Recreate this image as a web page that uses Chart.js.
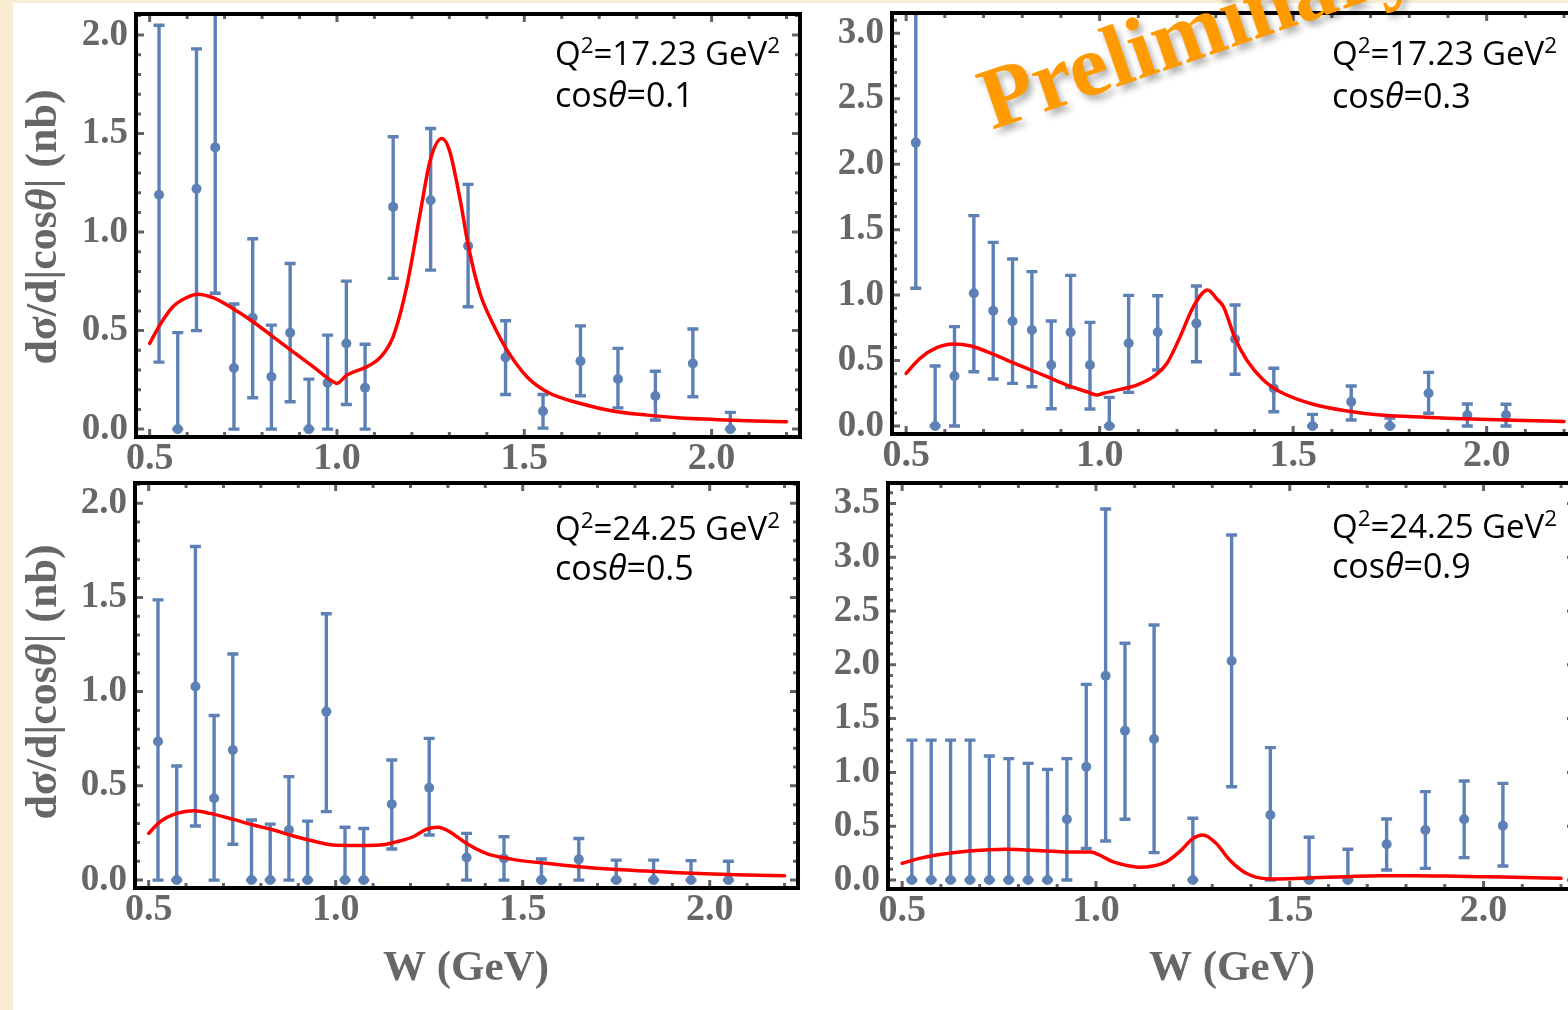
<!DOCTYPE html>
<html>
<head>
<meta charset="utf-8">
<script src="https://cdn.jsdelivr.net/npm/chart.js@4.4.1/dist/chart.umd.min.js"></script>
<style>
  html, body { margin: 0; padding: 0; overflow: hidden; }
  body { width: 1568px; height: 1010px; position: relative; background: #f8ecd2; }
  #sheet { position: absolute; left: 13px; top: 3px; width: 1600px; height: 1010px; background: #fff; }
  canvas { position: absolute; }
</style>
</head>
<body>
<div id="sheet"></div>
<canvas id="c1" width="820" height="480" style="left:0px;top:0px"></canvas>
<canvas id="c2" width="780" height="480" style="left:820px;top:0px"></canvas>
<canvas id="c3" width="820" height="540" style="left:0px;top:470px"></canvas>
<canvas id="c4" width="780" height="540" style="left:820px;top:470px"></canvas>
<script>
// W bin centres (GeV), shared by all four panels
const wBins = [0.525, 0.575, 0.625, 0.675, 0.725, 0.775, 0.825, 0.875, 0.925, 0.975, 1.025,
               1.075, 1.15, 1.25, 1.35, 1.45, 1.55, 1.65, 1.75, 1.85, 1.95, 2.05];

// Q2 = 17.23, cos = 0.1
const p1Val = [1.19, 0, 1.22, 1.43, 0.31, 0.565, 0.266, 0.489, 0, 0.235, 0.435, 0.21, 1.128, 1.162, 0.929, 0.364, 0.091, 0.345, 0.254, 0.168, 0.333, 0];
const p1Lo  = [0.34, 0, 0.50, 0.69, 0, 0.159, 0, 0.139, 0, 0, 0.125, 0, 0.765, 0.807, 0.621, 0.176, 0.005, 0.169, 0.108, 0.046, 0.164, 0];
const p1Hi  = [2.05, 0.49, 1.93, 2.17, 0.635, 0.966, 0.528, 0.841, 0.254, 0.477, 0.751, 0.431, 1.484, 1.526, 1.242, 0.55, 0.176, 0.524, 0.41, 0.294, 0.508, 0.085];
const fit1W = [0.5, 0.527, 0.562, 0.598, 0.628, 0.669, 0.722, 0.776, 0.829, 0.883, 0.937, 0.99, 1.0, 1.026, 1.079, 1.116, 1.15, 1.186, 1.222, 1.249, 1.28, 1.30, 1.329, 1.351, 1.382, 1.418, 1.454, 1.507, 1.56, 1.65, 1.739, 1.828, 1.917, 2.006, 2.095, 2.2];
const fit1Y = [0.435, 0.528, 0.621, 0.667, 0.685, 0.667, 0.612, 0.545, 0.469, 0.392, 0.316, 0.24, 0.232, 0.274, 0.316, 0.365, 0.47, 0.722, 1.095, 1.365, 1.475, 1.416, 1.162, 0.926, 0.688, 0.528, 0.401, 0.266, 0.19, 0.13, 0.091, 0.071, 0.057, 0.049, 0.042, 0.037];

// Q2 = 17.23, cos = 0.3
const p2Val = [2.165, 0, 0.382, 1.014, 0.881, 0.80, 0.733, 0.466, 0.716, 0.466, 0, 0.632, 0.716, 0.784, 0.665, 0.288, 0, 0.186, 0, 0.25, 0.084, 0.084];
const p2Lo  = [1.052, 0, 0, 0.415, 0.359, 0.326, 0.30, 0.132, 0.293, 0.13, 0, 0.257, 0.428, 0.491, 0.395, 0.109, 0, 0.046, 0, 0.097, 0, 0];
const p2Hi  = [3.28, 0.458, 0.759, 1.607, 1.403, 1.276, 1.179, 0.802, 1.151, 0.792, 0.219, 0.998, 0.995, 1.07, 0.924, 0.441, 0.089, 0.306, 0.06, 0.41, 0.168, 0.166];
const fit2W = [0.5, 0.536, 0.579, 0.622, 0.665, 0.709, 0.76, 0.812, 0.864, 0.915, 0.967, 0.993, 1.01, 1.053, 1.096, 1.139, 1.174, 1.208, 1.242, 1.279, 1.303, 1.32, 1.35, 1.38, 1.423, 1.466, 1.552, 1.639, 1.725, 1.811, 1.897, 1.983, 2.069, 2.2];
const fit2Y = [0.402, 0.517, 0.598, 0.626, 0.613, 0.568, 0.504, 0.44, 0.377, 0.313, 0.262, 0.237, 0.25, 0.28, 0.313, 0.377, 0.479, 0.682, 0.911, 1.039, 0.97, 0.911, 0.67, 0.504, 0.351, 0.262, 0.166, 0.115, 0.084, 0.071, 0.059, 0.051, 0.044, 0.035];

// Q2 = 24.25, cos = 0.5
const p3Val = [0.735, 0, 1.027, 0.434, 0.69, 0, 0, 0.266, 0, 0.894, 0, 0, 0.402, 0.49, 0.12, 0.115, 0, 0.11, 0, 0, 0, 0];
const p3Lo  = [0, 0, 0.287, 0, 0.19, 0, 0, 0, 0, 0.363, 0, 0, 0.165, 0.239, 0, 0, 0, 0, 0, 0, 0, 0];
const p3Hi  = [1.487, 0.605, 1.77, 0.873, 1.2, 0.319, 0.297, 0.549, 0.313, 1.413, 0.28, 0.274, 0.637, 0.752, 0.248, 0.23, 0.112, 0.221, 0.106, 0.106, 0.103, 0.10];
const fit3W = [0.5, 0.531, 0.575, 0.62, 0.664, 0.727, 0.78, 0.834, 0.887, 0.94, 0.993, 1.038, 1.083, 1.127, 1.162, 1.207, 1.242, 1.273, 1.305, 1.349, 1.402, 1.473, 1.562, 1.651, 1.74, 1.829, 1.918, 2.007, 2.096, 2.2];
const fit3Y = [0.248, 0.31, 0.354, 0.368, 0.354, 0.322, 0.292, 0.266, 0.234, 0.207, 0.186, 0.184, 0.184, 0.187, 0.203, 0.23, 0.269, 0.28, 0.256, 0.195, 0.142, 0.11, 0.089, 0.071, 0.057, 0.048, 0.039, 0.032, 0.027, 0.023];

// Q2 = 24.25, cos = 0.9
const p4Val = [0, 0, 0, 0, 0, 0, 0, 0, 0.564, 1.053, 1.899, 1.388, 1.31, 0, 2.035, 0.604, 0, 0, 0.332, 0.465, 0.564, 0.505];
const p4Lo  = [0, 0, 0, 0, 0, 0, 0, 0, 0, 0.294, 0.362, 0.564, 0.254, 0, 0.867, 0, 0, 0, 0.093, 0.108, 0.208, 0.13];
const p4Hi  = [1.30, 1.30, 1.30, 1.30, 1.152, 1.128, 1.084, 1.028, 1.128, 1.818, 3.448, 2.2, 2.37, 0.573, 3.206, 1.23, 0.397, 0.285, 0.567, 0.821, 0.92, 0.898];
const fit4W = [0.5, 0.545, 0.588, 0.631, 0.673, 0.716, 0.768, 0.82, 0.871, 0.923, 0.987, 1.009, 1.043, 1.087, 1.113, 1.147, 1.182, 1.216, 1.251, 1.276, 1.31, 1.345, 1.388, 1.439, 1.474, 1.56, 1.646, 1.732, 1.818, 1.904, 1.99, 2.076, 2.2];
const fit4Y = [0.155, 0.201, 0.232, 0.254, 0.27, 0.279, 0.285, 0.279, 0.27, 0.26, 0.26, 0.232, 0.17, 0.13, 0.118, 0.13, 0.17, 0.263, 0.387, 0.418, 0.341, 0.186, 0.062, 0.012, 0.01, 0.02, 0.031, 0.04, 0.04, 0.037, 0.031, 0.025, 0.015];

// tick labels
const xTickVals = [0.5, 1.0, 1.5, 2.0];
const yTicks2   = [0, 0.5, 1.0, 1.5, 2.0];
const yTicks3   = [0, 0.5, 1.0, 1.5, 2.0, 2.5, 3.0];
const yTicks35  = [0, 0.5, 1.0, 1.5, 2.0, 2.5, 3.0, 3.5];

const panelQ2  = ['17.23', '17.23', '24.25', '24.25'];
const panelCos = ['0.1', '0.3', '0.5', '0.9'];

const BLUE = '#5e81b5';
const GRAY = '#676767';
const SERIF = '"Liberation Serif", "Times New Roman", serif';
const SANS = '"Open Sans", "Noto Sans", sans-serif';

Chart.defaults.font.family = SERIF;

// draws a row of text pieces (superscripts, italics) starting at x
function drawRuns(ctx, x, y, runs, size, family, weight) {
  runs.forEach(r => {
    const s = r.sup ? size * 0.68 : size;
    ctx.font = (r.it ? 'italic ' : '') + weight + ' ' + s + 'px ' + family;
    ctx.fillText(r.t, x, r.sup ? y - size * 0.36 : y);
    x += ctx.measureText(r.t).width;
  });
}
function runsWidth(ctx, runs, size, family, weight) {
  let w = 0;
  runs.forEach(r => {
    const s = r.sup ? size * 0.68 : size;
    ctx.font = (r.it ? 'italic ' : '') + weight + ' ' + s + 'px ' + family;
    w += ctx.measureText(r.t).width;
  });
  return w;
}

function makePanel(p, k) {
  const ticksAndBars = {
    id: 'ticksAndBars',
    beforeDatasetsDraw(chart) {
      const { ctx, chartArea: a, scales: { x, y } } = chart;
      ctx.save();
      // inward tick marks on all four sides
      ctx.strokeStyle = '#626262';
      ctx.lineWidth = 3;
      ctx.beginPath();
      for (let i = 5; i / 10 <= x.max; i++) {
        const px = x.getPixelForValue(i / 10), len = i % 5 === 0 ? 8 : 5;
        ctx.moveTo(px, a.bottom); ctx.lineTo(px, a.bottom - len);
        ctx.moveTo(px, a.top); ctx.lineTo(px, a.top + len);
      }
      for (let i = 0; i / 10 <= y.max; i++) {
        const py = y.getPixelForValue(i / 10), len = i % 5 === 0 ? 8 : 5;
        ctx.moveTo(a.left, py); ctx.lineTo(a.left + len, py);
        ctx.moveTo(a.right, py); ctx.lineTo(a.right - len, py);
      }
      ctx.stroke();
      // error bars
      ctx.beginPath();
      ctx.rect(a.left, a.top, a.right - a.left, a.bottom - a.top);
      ctx.clip();
      ctx.strokeStyle = BLUE;
      ctx.lineWidth = 3.4;
      ctx.beginPath();
      wBins.forEach((w, i) => {
        const px = x.getPixelForValue(w);
        const yl = y.getPixelForValue(p.lo[i]), yh = y.getPixelForValue(p.hi[i]);
        ctx.moveTo(px, yl); ctx.lineTo(px, yh);
        ctx.moveTo(px - 5.5, yl); ctx.lineTo(px + 5.5, yl);
        ctx.moveTo(px - 5.5, yh); ctx.lineTo(px + 5.5, yh);
      });
      ctx.stroke();
      ctx.restore();
    },
    afterDatasetsDraw(chart) {
      const { ctx, chartArea: a } = chart;
      ctx.save();
      ctx.strokeStyle = '#000';
      ctx.lineWidth = 4;
      ctx.strokeRect(a.left, a.top, a.right - a.left, a.bottom - a.top);
      ctx.restore();
    }
  };

  const texts = {
    id: 'texts',
    afterDraw(chart) {
      const ctx = chart.ctx;
      ctx.save();
      ctx.fillStyle = '#000';
      ctx.textBaseline = 'alphabetic';
      drawRuns(ctx, p.tx, p.ty1, [{ t: 'Q' }, { t: '2', sup: true }, { t: '=' + panelQ2[k] + ' GeV' }, { t: '2', sup: true }], 33, SANS, 'normal');
      drawRuns(ctx, p.tx, p.ty2, [{ t: 'cos' }, { t: 'θ', it: true }, { t: '=' + panelCos[k] }], 34, SANS, 'normal');
      ctx.fillStyle = GRAY;
      if (p.yTitle) {
        const runs = [{ t: 'dσ/d|cos' }, { t: 'θ', it: true }, { t: '| (nb)' }];
        const w = runsWidth(ctx, runs, 44, SERIF, 'bold');
        ctx.translate(56, p.yTitle);
        ctx.rotate(-Math.PI / 2);
        drawRuns(ctx, -w / 2, 0, runs, 44, SERIF, 'bold');
        ctx.setTransform(1, 0, 0, 1, 0, 0);
      }
      if (p.xTitle) {
        ctx.font = 'bold 43px ' + SERIF;
        ctx.textAlign = 'center';
        ctx.fillText('W (GeV)', p.xTitle, 510);
      }
      if (p.stamp) {
        ctx.translate(172, 130);
        ctx.rotate(-19 * Math.PI / 180);
        ctx.font = 'bold 88px ' + SERIF;
        ctx.textAlign = 'left';
        ctx.shadowColor = 'rgba(0,0,0,0.3)';
        ctx.shadowBlur = 6;
        ctx.shadowOffsetX = 4;
        ctx.shadowOffsetY = 5;
        ctx.fillStyle = '#ff9a00';
        ctx.fillText('Preliminary', 0, 0);
      }
      ctx.restore();
    }
  };

  return new Chart(document.getElementById(p.id), {
    type: 'scatter',
    data: {
      datasets: [
        {
          data: p.fitW.map((w, i) => ({ x: w, y: p.fitY[i] })),
          showLine: true,
          borderColor: '#ff0000',
          borderWidth: 3.5,
          pointRadius: 0,
          cubicInterpolationMode: 'monotone',
          borderJoinStyle: 'round',
          borderCapStyle: 'round'
        },
        {
          data: wBins.map((w, i) => ({ x: w, y: p.val[i] })),
          pointRadius: 5,
          backgroundColor: BLUE,
          borderWidth: 0
        }
      ]
    },
    options: {
      responsive: false,
      animation: false,
      layout: { padding: { top: p.padTop, right: p.padRight, left: 0, bottom: 0 } },
      plugins: { legend: { display: false }, tooltip: { enabled: false } },
      scales: {
        x: {
          type: 'linear',
          min: 0.4635,
          max: 2.236,
          afterBuildTicks: s => { s.ticks = xTickVals.map(v => ({ value: v })); },
          afterFit: s => { s.height = p.xAxisH; s.paddingLeft = 0; s.paddingRight = 0; },
          grid: { display: false, drawTicks: false },
          border: { display: false },
          ticks: {
            color: GRAY, padding: 3, maxRotation: 0, minRotation: 0, autoSkip: false,
            font: { size: 38, weight: 'bold', lineHeight: 1 },
            callback: v => v.toFixed(1)
          }
        },
        y: {
          type: 'linear',
          min: p.yMin,
          max: p.yMax,
          afterBuildTicks: s => { s.ticks = p.yTicks.map(v => ({ value: v })); },
          afterFit: s => { s.width = p.yAxisW; s.paddingTop = 0; s.paddingBottom = 0; },
          grid: { display: false, drawTicks: false },
          border: { display: false },
          ticks: {
            color: GRAY, padding: 8, autoSkip: false,
            font: { size: 37, weight: 'bold', lineHeight: 1 },
            callback: v => v.toFixed(1)
          }
        }
      }
    },
    plugins: [ticksAndBars, texts]
  });
}

const panels = [
  { id: 'c1', val: p1Val, lo: p1Lo, hi: p1Hi, fitW: fit1W, fitY: fit1Y, yMin: -0.04, yMax: 2.107, yTicks: yTicks2,
    yAxisW: 136, xAxisH: 43, padTop: 14, padRight: 20, tx: 555, ty1: 65, ty2: 107, yTitle: 227 },
  { id: 'c2', val: p2Val, lo: p2Lo, hi: p2Hi, fitW: fit2W, fitY: fit2Y, yMin: -0.061, yMax: 3.155, yTicks: yTicks3,
    yAxisW: 72, xAxisH: 46, padTop: 13, padRight: 22, tx: 512, ty1: 65, ty2: 108, stamp: true },
  { id: 'c3', val: p3Val, lo: p3Lo, hi: p3Hi, fitW: fit3W, fitY: fit3Y, yMin: -0.042, yMax: 2.107, yTicks: yTicks2,
    yAxisW: 135, xAxisH: 122, padTop: 13, padRight: 22, tx: 555, ty1: 70, ty2: 110, yTitle: 212, xTitle: 466 },
  { id: 'c4', val: p4Val, lo: p4Lo, hi: p4Hi, fitW: fit4W, fitY: fit4Y, yMin: -0.084, yMax: 3.69, yTicks: yTicks35,
    yAxisW: 68, xAxisH: 121, padTop: 13, padRight: 25, tx: 512, ty1: 68, ty2: 108, xTitle: 412 }
];

panels.forEach((p, k) => makePanel(p, k));
</script>
</body>
</html>
